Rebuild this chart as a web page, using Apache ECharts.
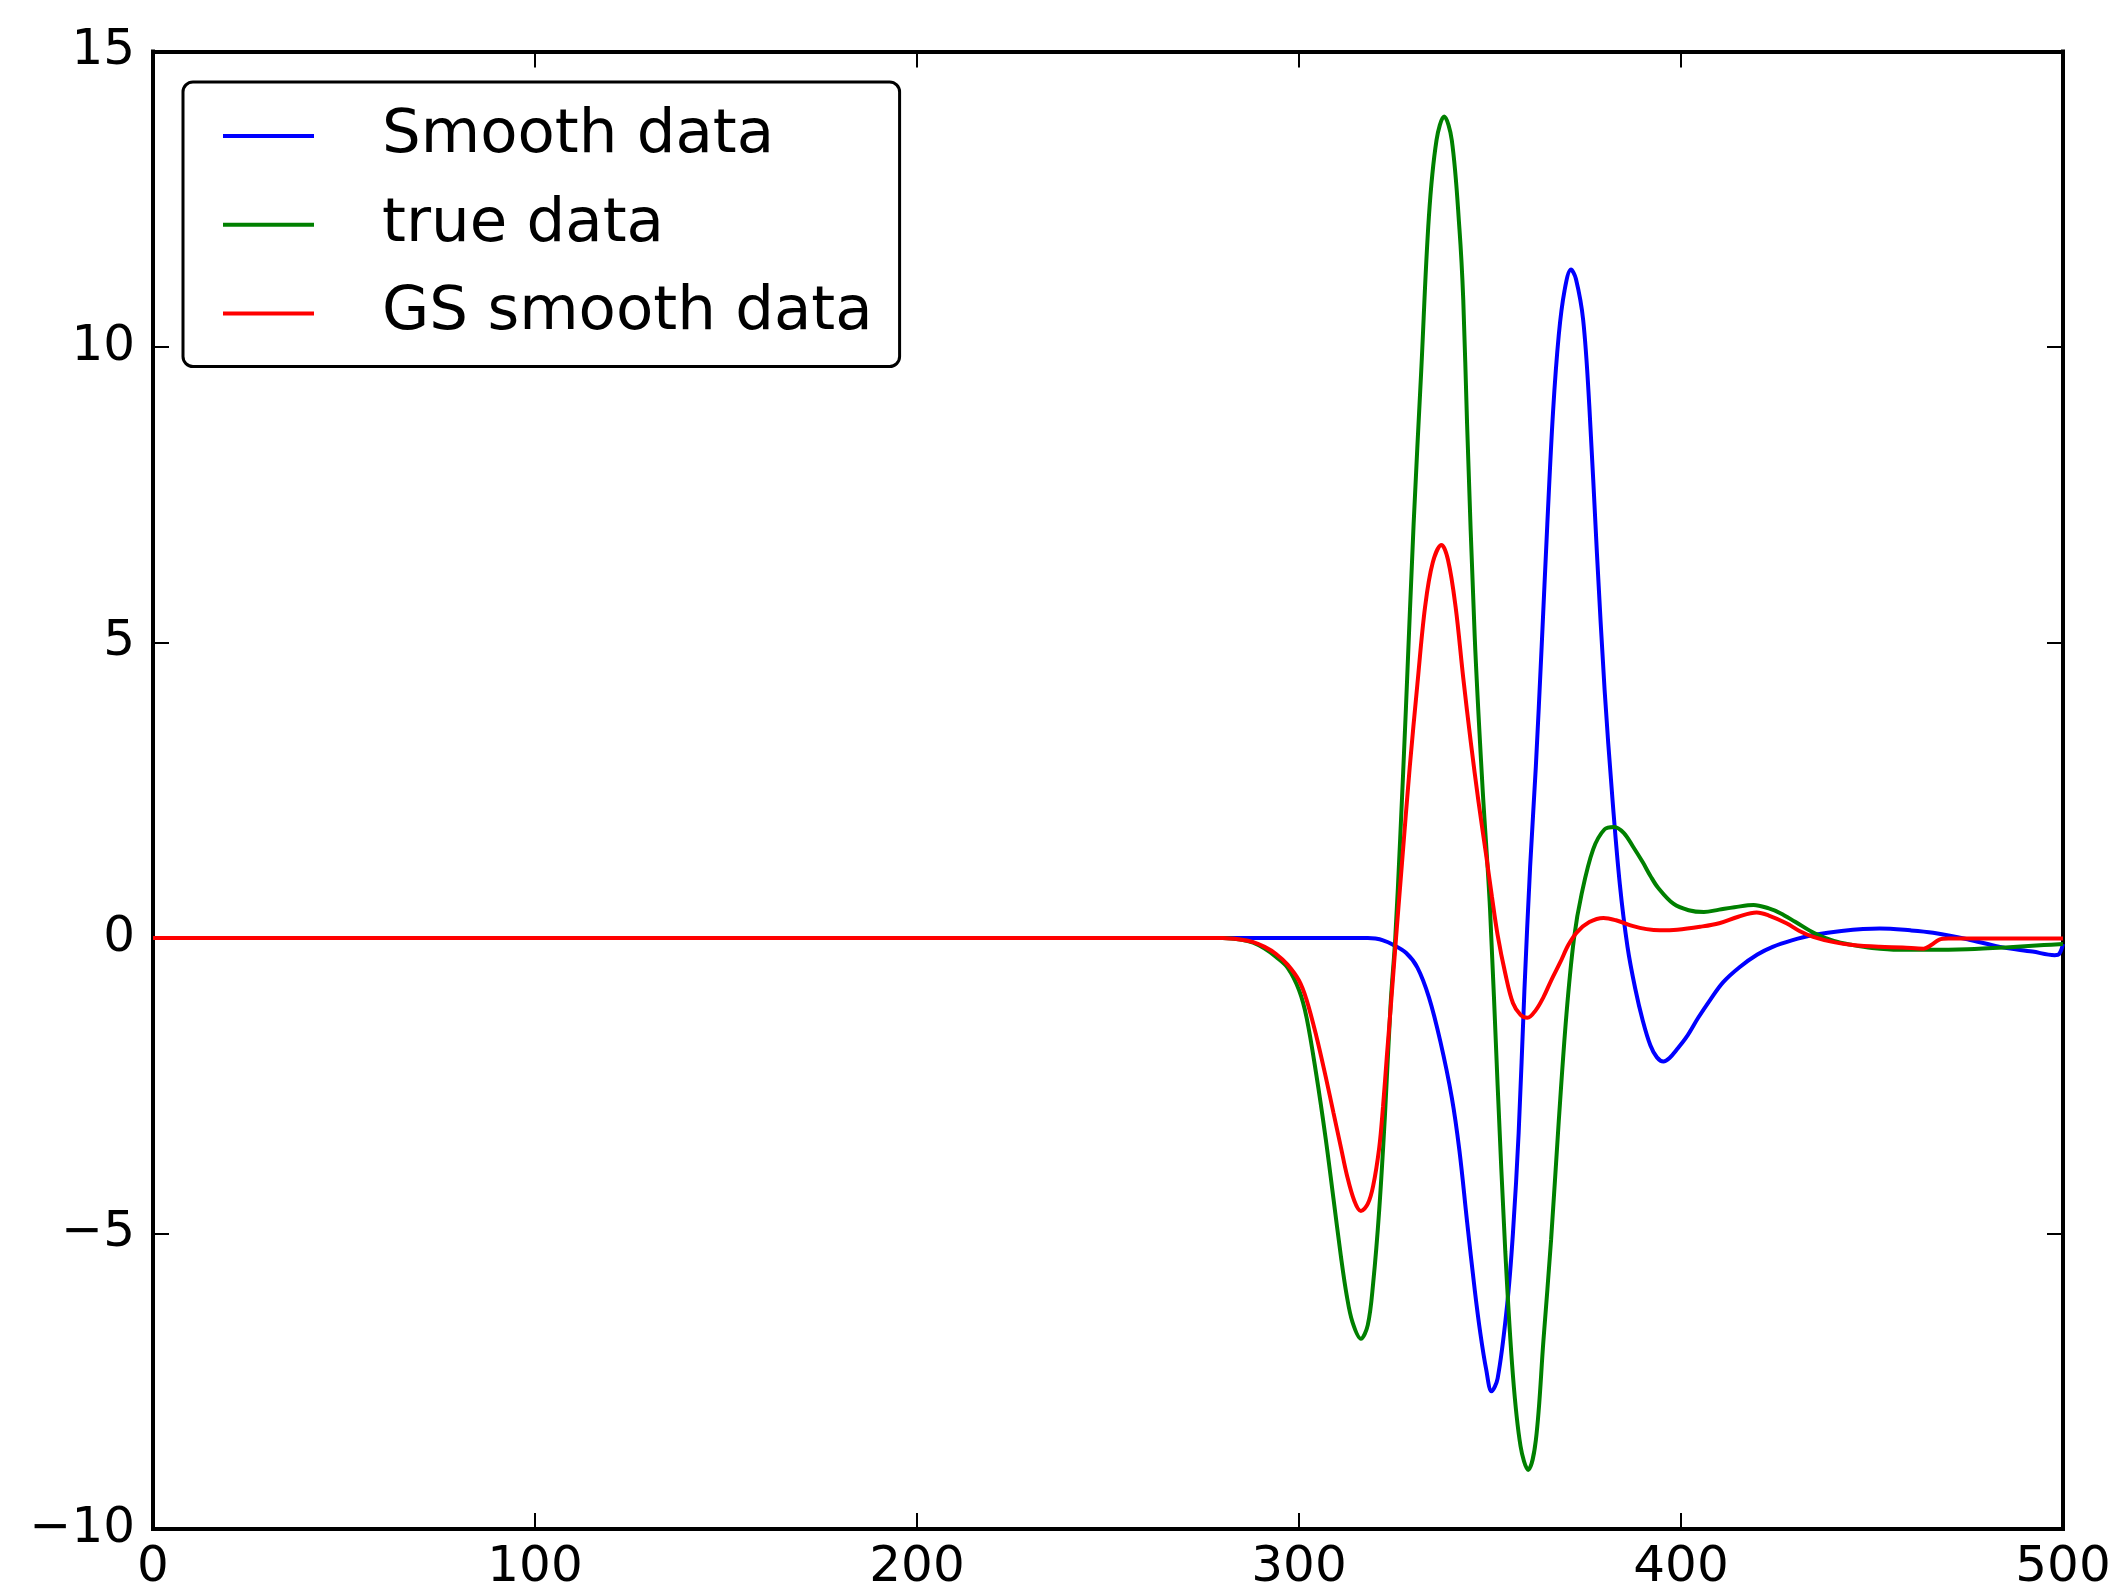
<!DOCTYPE html>
<html>
<head>
<meta charset="utf-8">
<script src="https://cdn.jsdelivr.net/npm/echarts@6/dist/echarts.min.js"></script>
<style>
  html, body { margin: 0; padding: 0; background: #fff; }
  #chart { width: 2125px; height: 1595px; }
</style>
</head>
<body>
<div id="chart"></div>
<script>
// ---- Data ----
const seriesNames = ['Smooth data', 'true data', 'GS smooth data'];
const xTicks = [0, 100, 200, 300, 400, 500];
const yTicks = [-10, -5, 0, 5, 10, 15];

const smoothX = [0, 318, 320, 322, 324.5, 328, 331, 334, 337, 340, 342, 344, 346, 347.5, 349, 350.4, 352, 354.5, 356, 357.5, 359, 360.5, 362, 363.5, 365, 366.5, 368, 369.5, 371.2, 372.5, 374.4, 376, 378, 380, 382, 384, 386, 388, 390, 392, 393.7, 395.4, 397, 399, 401.5, 404.5, 407.6, 411, 415.4, 420, 424, 429, 434.6, 442, 452, 460, 466, 475, 483.5, 492, 497.8, 499, 500];
const smoothY = [0, 0, -0.01, -0.04, -0.11, -0.25, -0.5, -1.0, -1.75, -2.7, -3.6, -4.8, -5.95, -6.7, -7.3, -7.67, -7.45, -6.2, -5.0, -3.3, -0.9, 1.2, 2.9, 4.9, 7.0, 8.9, 10.2, 10.95, 11.31, 11.15, 10.45, 9.0, 6.5, 4.2, 2.4, 0.9, -0.15, -0.85, -1.4, -1.82, -2.02, -2.09, -2.03, -1.88, -1.67, -1.35, -1.05, -0.75, -0.49, -0.28, -0.15, -0.04, 0.05, 0.12, 0.16, 0.13, 0.09, -0.02, -0.15, -0.23, -0.29, -0.27, -0.1];

const trueX = [0, 280, 285, 288, 291, 294, 297, 300, 302, 304.5, 307, 309, 311, 312.5, 314, 316.2, 318, 319.4, 321, 322.5, 324, 325.2, 326.5, 328, 330, 332, 334, 336, 338, 340, 342, 343, 344, 346, 348, 350, 352, 354, 356, 358, 360, 362, 364, 366, 368, 370, 372, 374, 377, 380, 382.5, 385, 387.5, 390, 392, 394, 398, 402, 406, 410, 414, 419, 423, 426, 430, 435, 440, 445, 450, 457, 465, 475, 485, 495, 500];
const trueY = [0, 0, -0.03, -0.08, -0.18, -0.32, -0.5, -0.88, -1.35, -2.3, -3.4, -4.4, -5.4, -6.05, -6.5, -6.78, -6.55, -5.85, -4.6, -3.0, -1.1, 0, 1.7, 3.9, 7.0, 9.6, 12.2, 13.5, 13.9, 13.5, 12.0, 10.8, 8.7, 5.1, 2.6, 0.5, -2.5, -5.3, -7.4, -8.6, -9.0, -8.5, -6.8, -5.1, -3.1, -1.3, 0.0, 0.75, 1.5, 1.84, 1.88, 1.78, 1.54, 1.28, 1.05, 0.85, 0.58, 0.47, 0.44, 0.48, 0.52, 0.56, 0.5, 0.42, 0.27, 0.08, -0.05, -0.12, -0.17, -0.2, -0.2, -0.19, -0.16, -0.12, -0.1];

const gsX = [0, 280, 285, 288, 291, 294, 297, 300, 302, 304.5, 307, 309, 311, 312.5, 314.5, 316.2, 318, 319.4, 321, 322, 323, 324.1, 325.4, 327, 329, 331, 333, 335, 337.3, 339, 341, 343, 345, 347, 349, 350.5, 352, 354, 356, 358, 359.8, 362, 364, 366, 368.4, 370.5, 372.8, 376, 379.7, 383, 387.5, 391, 394.4, 399, 405, 410, 415, 419.8, 423, 427.6, 431, 434.6, 440, 445, 452, 458, 463.5, 465.5, 467.5, 470, 480, 490, 500];
const gsY = [0, 0, -0.03, -0.07, -0.15, -0.27, -0.45, -0.72, -1.05, -1.65, -2.35, -2.95, -3.55, -4.0, -4.45, -4.62, -4.5, -4.2, -3.55, -2.85, -2.0, -1.1, 0, 1.3, 2.9, 4.3, 5.6, 6.35, 6.65, 6.4, 5.6, 4.4, 3.3, 2.3, 1.4, 0.7, 0.05, -0.6, -1.1, -1.3, -1.35, -1.22, -1.0, -0.72, -0.41, -0.12, 0.1, 0.27, 0.34, 0.3, 0.2, 0.15, 0.13, 0.14, 0.19, 0.25, 0.36, 0.43, 0.38, 0.25, 0.12, 0.02, -0.07, -0.12, -0.15, -0.16, -0.18, -0.12, -0.03, -0.01, -0.01, -0.01, -0.01];

const colors = ['#0000ff', '#008000', '#ff0000'];

function pairs(xs, ys) { return xs.map((x, i) => [x, ys[i]]); }
const FONT = 'DejaVu Sans';

const frameLine = { show: true, onZero: false, lineStyle: { color: '#000', width: 4, cap: 'square' } };
const tick = { show: true, inside: true, length: 16, lineStyle: { color: '#000', width: 2 } };
const fmtNum = v => (v < 0 ? '\u2212' + Math.abs(v) : String(v));

const xBase = { type: 'value', min: xTicks[0], max: xTicks[xTicks.length - 1], interval: 100, splitLine: { show: false }, axisLine: frameLine, axisTick: tick };
const yBase = { type: 'value', min: yTicks[0], max: yTicks[yTicks.length - 1], interval: 5, splitLine: { show: false }, axisLine: frameLine, axisTick: tick };

const chart = echarts.init(document.getElementById('chart'), null, { renderer: 'canvas' });
chart.setOption({
  backgroundColor: '#ffffff',
  animation: false,
  textStyle: { fontFamily: FONT },
  grid: { left: 153, right: 62, top: 51.5, bottom: 66, containLabel: false },
  xAxis: [
    Object.assign({}, xBase, { position: 'bottom', axisLabel: { show: true, fontSize: 50, fontFamily: FONT, color: '#000', margin: 14, formatter: fmtNum } }),
    Object.assign({}, xBase, { position: 'top', axisLabel: { show: false } })
  ],
  yAxis: [
    Object.assign({}, yBase, { position: 'left', axisLabel: { show: true, fontSize: 50, fontFamily: FONT, color: '#000', margin: 18, formatter: fmtNum } }),
    Object.assign({}, yBase, { position: 'right', axisLabel: { show: false } })
  ],
  legend: {
    orient: 'vertical',
    left: 183,
    top: 82,
    data: seriesNames,
    selectedMode: false,
    icon: 'rect',
    itemWidth: 91,
    itemHeight: 4,
    itemGap: 18.75,
    padding: [19, 27, 18, 40],
    borderColor: '#000',
    borderWidth: 3,
    borderRadius: 10,
    backgroundColor: '#fff',
    textStyle: { fontSize: 61, fontFamily: FONT, color: '#000', lineHeight: 70, padding: [0, 0, 0, 63] }
  },
  series: [
    { name: seriesNames[0], type: 'line', data: pairs(smoothX, smoothY), xAxisIndex: 0, yAxisIndex: 0, showSymbol: false, symbol: 'none', smooth: 0.35, lineStyle: { color: colors[0], width: 4 }, itemStyle: { color: colors[0] }, z: 2 },
    { name: seriesNames[1], type: 'line', data: pairs(trueX, trueY), xAxisIndex: 0, yAxisIndex: 0, showSymbol: false, symbol: 'none', smooth: 0.35, lineStyle: { color: colors[1], width: 4 }, itemStyle: { color: colors[1] }, z: 3 },
    { name: seriesNames[2], type: 'line', data: pairs(gsX, gsY), xAxisIndex: 0, yAxisIndex: 0, showSymbol: false, symbol: 'none', smooth: 0.35, lineStyle: { color: colors[2], width: 4 }, itemStyle: { color: colors[2] }, z: 4 }
  ]
});
</script>
</body>
</html>
